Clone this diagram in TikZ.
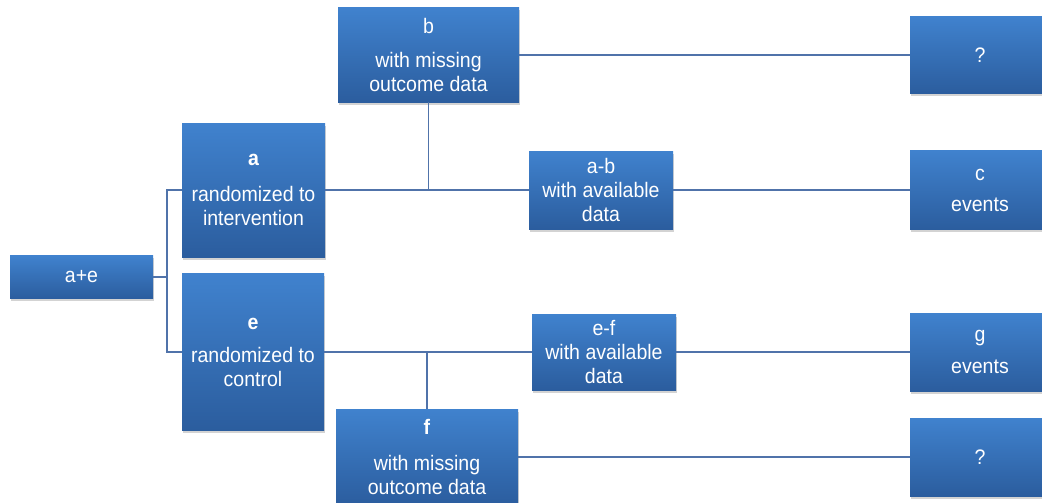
\documentclass[tikz,border=0pt]{standalone}
\usepackage{fontspec}
\setmainfont{Liberation Sans}[FakeStretch=0.93]
\usetikzlibrary{shadows}
\definecolor{boxtop}{RGB}{64,130,206}
\definecolor{boxbottom}{RGB}{43,93,158}
\definecolor{linkblue}{RGB}{80,115,170}

\begin{document}
\begin{tikzpicture}[x=1pt, y=-1pt,
    block/.style={rectangle, top color=boxtop, bottom color=boxbottom, text=white, align=center, inner sep=2pt, font=\fontsize{21}{24}\selectfont, drop shadow={opacity=0.35, shadow xshift=1pt, shadow yshift=-2.5pt}},
    link/.style={draw=linkblue, line width=1.4pt}]
    \useasboundingbox (0,0) rectangle (1042,503);

    % left part: all randomized, then the two arms
    \node[block, minimum width=143pt, minimum height=43pt] (total) at (81.5,277) {a+e};
    \node[block, minimum width=143pt, minimum height=134pt] (interv) at (253.5,190) {\textbf{a}\\[12pt]randomized to\\intervention};
    \node[block, minimum width=142pt, minimum height=157pt] (control) at (253,352) {\textbf{e}\\[9pt]randomized to\\control};

    % middle part: missing and available data
    \node[block, minimum width=181pt, minimum height=94pt] (missA) at (428.5,55) {b\\[10pt]with missing\\outcome data};
    \node[block, minimum width=144pt, minimum height=78pt] (availA) at (601,190) {a-b\\with available\\data};
    \node[block, minimum width=144pt, minimum height=76pt] (availE) at (604,352) {e-f\\with available\\data};
    \node[block, minimum width=182pt, minimum height=96pt] (missE) at (427,457) {\textbf{f}\\[12pt]with missing\\outcome data};

    % right part: outcomes
    \node[block, minimum width=140pt, minimum height=77pt] (unknA) at (980,55) {?};
    \node[block, minimum width=140pt, minimum height=79pt] (eventsA) at (980,190) {c\\[7pt]events};
    \node[block, minimum width=140pt, minimum height=78pt] (eventsE) at (980,352) {g\\[8pt]events};
    \node[block, minimum width=140pt, minimum height=78pt] (unknE) at (980,457) {?};

    % connectors
    \coordinate (fork) at (167,277);
    \coordinate (jointA) at (missA.south |- interv.east);
    \coordinate (jointE) at (missE.north |- control.east);
    \draw[link] (total.east) -- (fork);
    \draw[link] (interv.west) -| (fork) |- (control.west);
    \draw[link] (interv.east) -- (availA.west);
    \draw[link] (missA.south) -- (jointA);
    \draw[link] (control.east) -- (availE.west);
    \draw[link] (missE.north) -- (jointE);
    \draw[link] (missA.east) -- (unknA.west);
    \draw[link] (availA.east) -- (eventsA.west);
    \draw[link] (availE.east) -- (eventsE.west);
    \draw[link] (missE.east) -- (unknE.west);
\end{tikzpicture}
\end{document}
